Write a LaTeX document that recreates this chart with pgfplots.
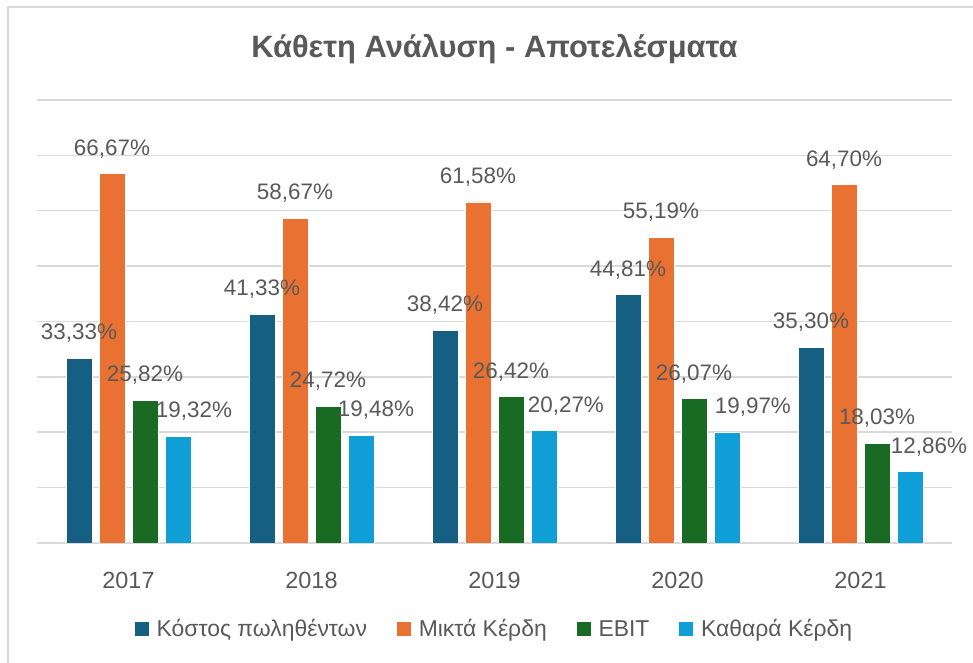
\documentclass[border=0pt]{standalone}
\usepackage{pgfplots}
\pgfplotsset{compat=1.18}
\usepackage{pgfplotstable}
\usepackage{fontspec}
\setmainfont{Liberation Sans}
\definecolor{c1}{HTML}{156082}
\definecolor{c2}{HTML}{E97132}
\definecolor{c3}{HTML}{196B24}
\definecolor{c4}{HTML}{0F9ED5}
\definecolor{txt}{HTML}{595959}
\definecolor{gridc}{HTML}{D9D9D9}

\pgfplotstableread{
x a b c d dx
0 33.33 66.67 25.82 19.32 16
1 41.33 58.67 24.72 19.48 15
2 38.42 61.58 26.42 20.27 22
3 44.81 55.19 26.07 19.97 26
4 35.30 64.70 18.03 12.86 19
}\datatable

\begin{document}
\begin{tikzpicture}[x=1bp,y=1bp]
\useasboundingbox (0,0) rectangle (973,663);
\draw[gridc, line width=2bp] (8,0) -- (8,656) -- (973,656);
\begin{axis}[
  at={(37bp,120bp)}, anchor=south west,
  scale only axis, width=915bp, height=443bp,
  ybar=7bp, bar width=26bp,
  xmin=-0.5, xmax=4.5, ymin=0, ymax=80,
  xtick={0,1,2,3,4}, xticklabels={2017,2018,2019,2020,2021},
  ytick={0,10,...,80}, yticklabels={},
  ymajorgrids, grid style={gridc, line width=1.5bp},
  axis line style={draw=none}, tick style={draw=none},
  xticklabel style={font=\fontsize{23.5}{26}\selectfont, text=txt, anchor=center, yshift=-33bp},
  title={Κάθετη Ανάλυση - Αποτελέσματα},
  title style={font=\fontsize{31}{34}\selectfont\bfseries, text=txt, at={(0.5,1)}, anchor=center, yshift=45bp},
  /pgf/number format/.cd, fixed, fixed zerofill, precision=2, use comma, assume math mode=true,
  /pgfplots/.cd,
  nodes near coords={\pgfmathprintnumber{\pgfplotspointmeta}\%},
  nodes near coords style={font=\fontsize{22.5}{25}\selectfont, text=txt, anchor=center, yshift=25bp},
  legend columns=4,
  legend cell align=left,
  legend style={draw=none, at={(0.5,-0.194)}, anchor=center, font=\fontsize{23}{26}\selectfont, text=txt,
    /tikz/every odd column/.append style={column sep=6bp},
    /tikz/every even column/.append style={column sep=28bp}},
  mybar/.style={fill=#1, draw=white, line width=0.75bp,
    legend image code/.code={\fill[#1] (0bp,-6.5bp) rectangle (13bp,6.5bp);}},
]
\addplot[mybar=c1] table[x=x,y=a]{\datatable};
\addplot[mybar=c2] table[x=x,y=b]{\datatable};
\addplot[mybar=c3] table[x=x,y=c]{\datatable};
\addplot[mybar=c4, visualization depends on={\thisrow{dx}\as\dx},
  nodes near coords style={xshift=\dx pt}] table[x=x,y=d]{\datatable};
\legend{Κόστος πωληθέντων, Μικτά Κέρδη, EBIT, Καθαρά Κέρδη}
\end{axis}
\end{tikzpicture}
\end{document}
